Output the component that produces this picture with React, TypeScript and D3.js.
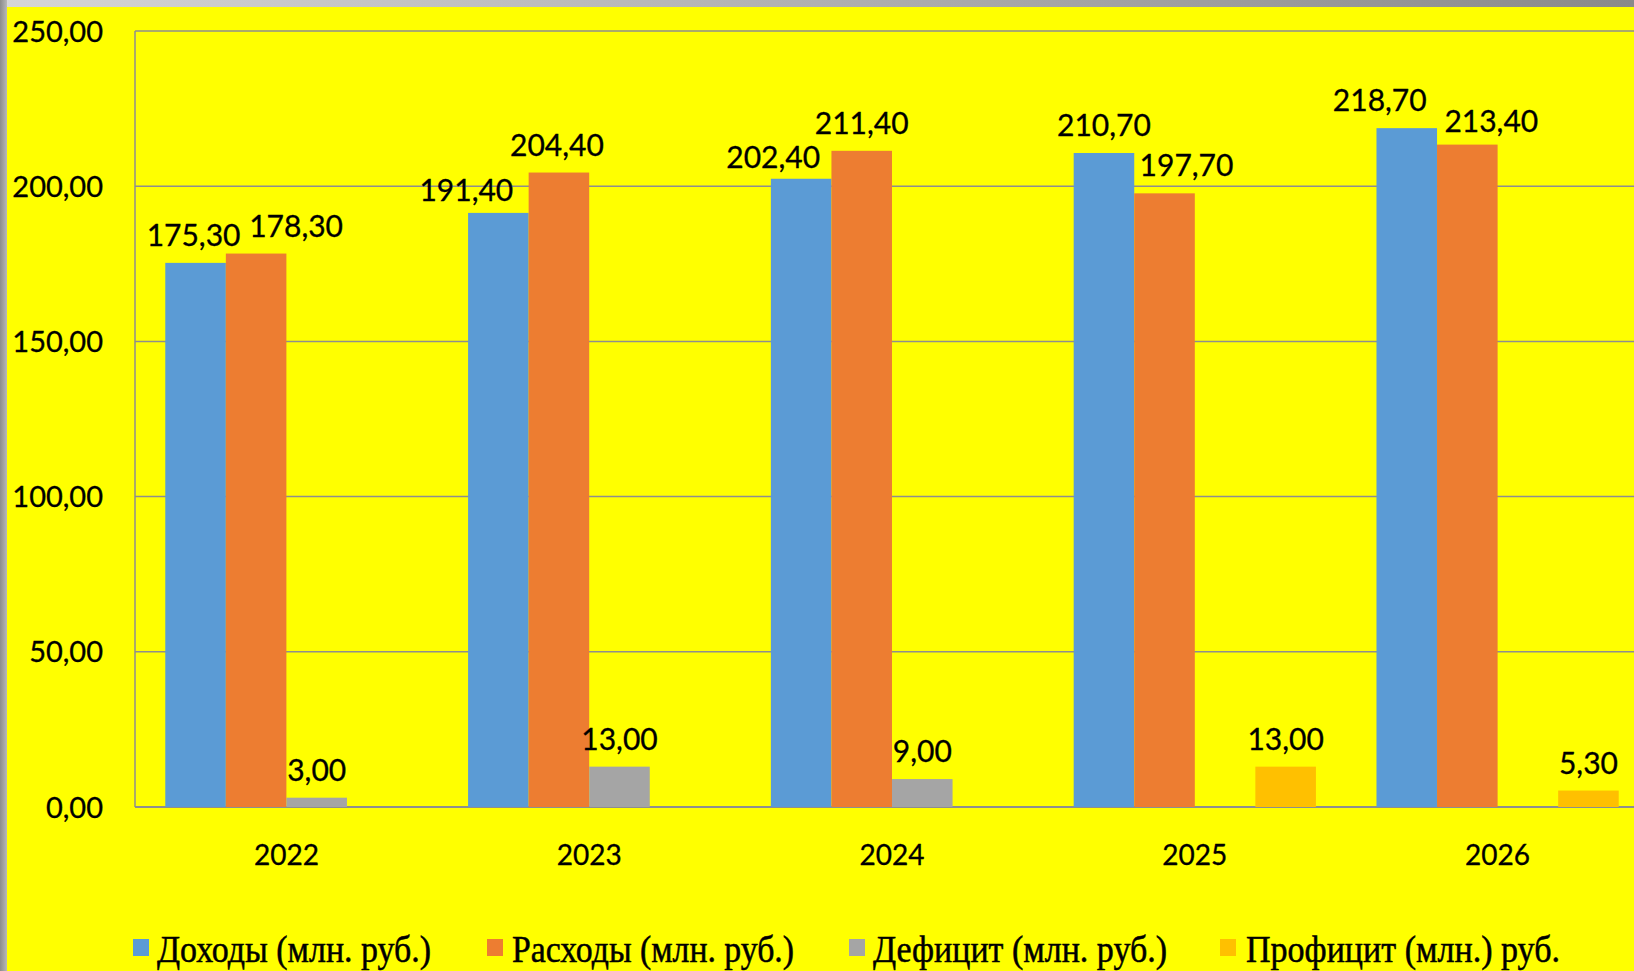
import React from "react";
import * as d3 from "d3";

const years = ["2022", "2023", "2024", "2025", "2026"];
const seriesNames = [
  "Доходы (млн. руб.)",
  "Расходы (млн. руб.)",
  "Дефицит (млн. руб.)",
  "Профицит (млн.) руб.",
];
const income = [175.3, 191.4, 202.4, 210.7, 218.7];
const expenses = [178.3, 204.4, 211.4, 197.7, 213.4];
const deficit = [3.0, 13.0, 9.0, null, null];
const surplus = [null, null, null, 13.0, 5.3];
const yTicks = [0, 50, 100, 150, 200, 250];

const colors = ["#5B9BD5", "#ED7D31", "#A5A5A5", "#FFC000"];

// hand-moved labels, like in the original slide (dx, dy in px)
const labelNudge: [number, number][][] = [
  [[-2, 0], [-32, 5], [-28, 6], [0, 0], [-27, 0]],
  [[40, 0], [-2, 0], [0, 0], [22, 0], [24, 4]],
];

// legend item layout: marker x, text start, text width
const legendPos = [
  [133, 157, 274],
  [487, 512, 282],
  [849, 873, 294],
  [1220, 1246, 314],
];

const W = 1634;
const H = 971;
const fmt = (v: number) => v.toFixed(2).replace(".", ",");

const App: React.FC = () => {
  const values = [income, expenses, deficit, surplus];
  const left = 135;
  const top = 31;
  const bottom = 807;
  const bandW = 302.8;

  const x = d3
    .scaleBand<string>()
    .domain(years)
    .range([left, left + bandW * years.length])
    .padding(0);
  const xs = d3
    .scaleBand<string>()
    .domain(seriesNames)
    .range([x.bandwidth() * 0.1, x.bandwidth() * 0.9]);
  const y = d3.scaleLinear().domain([0, 250]).range([bottom, top]);

  const numFont = "Lato, 'Open Sans', sans-serif";

  return (
    <svg
      width={W}
      height={H}
      style={{ position: "absolute", left: 0, top: 0 }}
    >
      <defs>
        <linearGradient id="topg" x1="0" x2="1" y1="0" y2="0">
          <stop offset="0" stopColor="#d6d6d6" />
          <stop offset="1" stopColor="#8a8a8a" />
        </linearGradient>
        <linearGradient id="leftg" x1="0" x2="1" y1="0" y2="0">
          <stop offset="0" stopColor="#8c8c8c" />
          <stop offset="1" stopColor="#b8b8b8" />
        </linearGradient>
      </defs>
      <rect x={0} y={0} width={W} height={H} fill="#FFFF00" />
      <rect x={0} y={0} width={W} height={7} fill="url(#topg)" />
      <rect x={0} y={0} width={7} height={H} fill="url(#leftg)" />

      {/* gridlines */}
      {yTicks.map((t) => (
        <line
          key={t}
          x1={left}
          x2={W}
          y1={y(t)}
          y2={y(t)}
          stroke="#8e8e8e"
          strokeWidth={t === 0 ? 2 : 1.5}
        />
      ))}
      <line x1={left} x2={left} y1={top} y2={bottom} stroke="#8e8e8e" strokeWidth={1.5} />

      {/* y tick labels */}
      {yTicks.map((t) => (
        <text
          key={"yl" + t}
          x={103}
          y={y(t) + 10.5}
          textAnchor="end"
          fontFamily={numFont}
          fontSize={29}
          stroke="#000"
          strokeWidth={0.3}
          fill="#000"
        >
          {fmt(t)}
        </text>
      ))}

      {/* bars */}
      {values.map((vals, si) =>
        vals.map((v, i) =>
          v == null ? null : (
            <rect
              key={`b${si}-${i}`}
              x={(x(years[i]) as number) + (xs(seriesNames[si]) as number)}
              y={y(v)}
              width={xs.bandwidth()}
              height={y(0) - y(v)}
              fill={colors[si]}
            />
          )
        )
      )}

      {/* data labels */}
      {values.map((vals, si) =>
        vals.map((v, i) => {
          if (v == null) return null;
          const nudge = labelNudge[si] ? labelNudge[si][i] : [0, 0];
          const cx =
            (x(years[i]) as number) +
            (xs(seriesNames[si]) as number) +
            xs.bandwidth() / 2;
          return (
            <text
              key={`l${si}-${i}`}
              x={cx + nudge[0]}
              y={y(v) - 17 + nudge[1]}
              textAnchor="middle"
              fontFamily={numFont}
              fontSize={30}
              stroke="#000"
              strokeWidth={0.3}
              fill="#000"
            >
              {fmt(v)}
            </text>
          );
        })
      )}

      {/* x labels */}
      {years.map((yr) => (
        <text
          key={"x" + yr}
          x={(x(yr) as number) + x.bandwidth() / 2}
          y={865}
          textAnchor="middle"
          fontFamily={numFont}
          fontSize={28}
          stroke="#000"
          strokeWidth={0.3}
          fill="#000"
        >
          {yr}
        </text>
      ))}

      {/* legend */}
      {seriesNames.map((name, si) => (
        <g key={"lg" + si}>
          <rect
            x={legendPos[si][0]}
            y={939}
            width={16}
            height={17}
            fill={colors[si]}
          />
          <text
            x={legendPos[si][1]}
            y={962}
            fontFamily="'Liberation Serif', 'Times New Roman', serif"
            fontSize={37}
            textLength={legendPos[si][2]}
            lengthAdjust="spacingAndGlyphs"
            stroke="#000"
            strokeWidth={0.5}
            fill="#000"
          >
            {name}
          </text>
        </g>
      ))}
    </svg>
  );
};

export default App;
